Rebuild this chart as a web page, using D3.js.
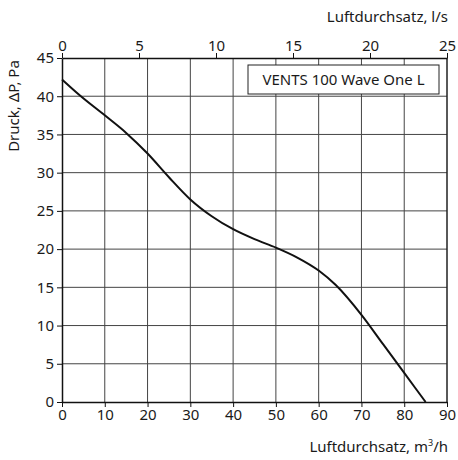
<!DOCTYPE html>
<html>
<head>
<meta charset="utf-8">
<script src="https://cdn.jsdelivr.net/npm/d3@7"></script>
<style>
  body { margin: 0; background: #fff; }
  svg text { font-family: "Noto Sans", sans-serif; fill: #1a1a1a; }
</style>
</head>
<body>
<svg id="chart" width="458" height="460"></svg>
<script>
// Kennlinie (m³/h, Pa)
const flowM3h = [0, 4, 10, 15, 20, 25, 30, 35, 40, 45, 50, 55, 60, 64, 70, 75, 80, 85];
const pressure = [42.2, 40.2, 37.5, 35.2, 32.5, 29.4, 26.5, 24.3, 22.6, 21.3, 20.2, 18.9, 17.2, 15.3, 11.4, 7.6, 3.8, 0];
const bottomTicks = [0, 10, 20, 30, 40, 50, 60, 70, 80, 90];
const topTicks = [0, 5, 10, 15, 20, 25];
const leftTicks = [0, 5, 10, 15, 20, 25, 30, 35, 40, 45];
const modelName = 'VENTS 100 Wave One L';

const svg = d3.select('#chart');
const plotLeft = 62, plotRight = 447, plotTop = 58, plotBottom = 402;

const x = d3.scaleLinear().domain([0, 90]).range([plotLeft, plotRight]);
const xTop = d3.scaleLinear().domain([0, 25]).range([plotLeft, plotRight]);
const y = d3.scaleLinear().domain([0, 45]).range([plotBottom, plotTop]);

// grid
svg.append('g')
    .selectAll('line')
    .data(bottomTicks.slice(1))
    .join('line')
    .attr('x1', d => x(d)).attr('x2', d => x(d))
    .attr('y1', plotTop).attr('y2', plotBottom)
    .attr('stroke', '#444').attr('stroke-width', 1);

svg.append('g')
    .selectAll('line')
    .data(leftTicks.slice(1, -1))
    .join('line')
    .attr('x1', plotLeft).attr('x2', plotRight)
    .attr('y1', d => y(d)).attr('y2', d => y(d))
    .attr('stroke', '#444').attr('stroke-width', 1);

// axes
const axisStyle = g => {
    g.select('.domain').attr('stroke', '#111').attr('stroke-width', 1.5);
    g.selectAll('.tick line').attr('stroke', '#111');
    g.selectAll('.tick text')
        .style('font-family', '"Noto Sans", sans-serif')
        .style('font-size', '15px')
        .attr('fill', '#1a1a1a');
};

svg.append('g')
    .attr('transform', `translate(0,${plotBottom})`)
    .call(d3.axisBottom(x).tickValues(bottomTicks).tickSize(5).tickSizeOuter(0).tickPadding(2))
    .call(axisStyle);

svg.append('g')
    .attr('transform', `translate(0,${plotTop})`)
    .call(d3.axisTop(xTop).tickValues(topTicks).tickSize(5).tickSizeOuter(0).tickPadding(2))
    .call(axisStyle);

svg.append('g')
    .attr('transform', `translate(${plotLeft},0)`)
    .call(d3.axisLeft(y).tickValues(leftTicks).tickSize(5).tickSizeOuter(0).tickPadding(3))
    .call(axisStyle);

// right border
svg.append('line')
    .attr('x1', plotRight).attr('x2', plotRight)
    .attr('y1', plotTop).attr('y2', plotBottom)
    .attr('stroke', '#111').attr('stroke-width', 1);

// curve
const points = flowM3h.map((f, i) => [f, pressure[i]]);
svg.append('path')
    .datum(points)
    .attr('fill', 'none')
    .attr('stroke', '#111')
    .attr('stroke-width', 2)
    .attr('d', d3.line().x(d => x(d[0])).y(d => y(d[1])).curve(d3.curveMonotoneX));

// legend box
svg.append('rect')
    .attr('x', 248).attr('y', 65)
    .attr('width', 191).attr('height', 29)
    .attr('fill', '#fff').attr('stroke', '#222').attr('stroke-width', 1);
svg.append('text')
    .attr('x', 343.5).attr('y', 85)
    .attr('text-anchor', 'middle')
    .style('font-size', '15px')
    .text(modelName);

// axis titles
svg.append('text')
    .attr('x', 448).attr('y', 22)
    .attr('text-anchor', 'end')
    .style('font-size', '15px')
    .text('Luftdurchsatz, l/s');

svg.append('text')
    .attr('x', 448).attr('y', 452)
    .attr('text-anchor', 'end')
    .style('font-size', '15px')
    .html('Luftdurchsatz, m<tspan dy="-6" font-size="9px">3</tspan><tspan dy="6">/h</tspan>');

svg.append('text')
    .attr('transform', 'translate(19,106) rotate(-90)')
    .attr('text-anchor', 'middle')
    .style('font-size', '15px')
    .text('Druck, ΔP, Pa');
</script>
</body>
</html>
